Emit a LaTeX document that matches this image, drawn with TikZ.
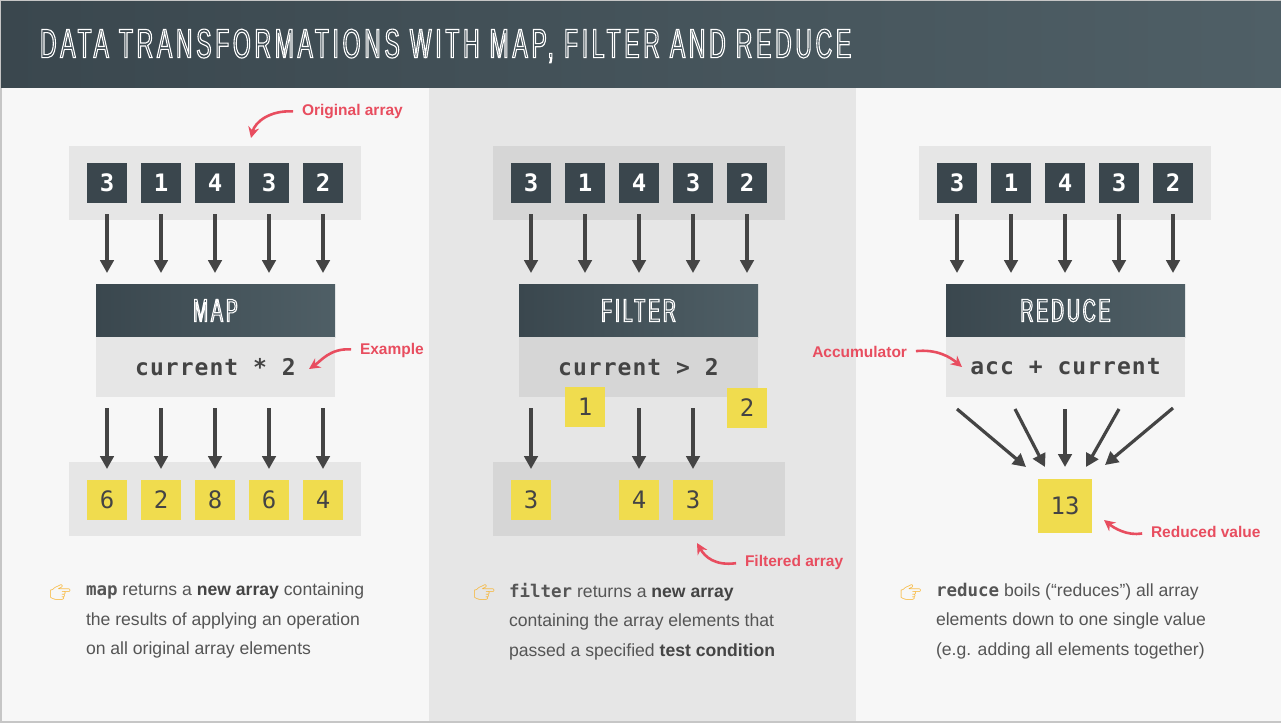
\documentclass[tikz,border=0pt]{standalone}
\usepackage{fontspec}
\usetikzlibrary{arrows.meta}
\setmainfont{Liberation Sans}
\newfontfamily\codefont{DejaVu Sans Mono}
\newfontfamily\titlefont[FakeStretch=0.56,LetterSpace=9]{Liberation Sans}
\newfontfamily\emojifont{Noto Emoji}
\definecolor{slateL}{HTML}{3A474E}
\definecolor{slateR}{HTML}{4F5F66}
\definecolor{cell}{HTML}{3A464D}
\definecolor{pagebg}{HTML}{F7F7F7}
\definecolor{lightbg}{HTML}{E6E6E6}
\definecolor{darkbg}{HTML}{D6D6D6}
\definecolor{yel}{HTML}{F0DC4E}
\definecolor{ink}{HTML}{444444}
\definecolor{txt}{HTML}{555555}
\definecolor{rose}{HTML}{E84D5F}
\newcommand{\outlined}[1]{\special{pdf:code 1 Tr 1.1 w}#1\special{pdf:code 0 Tr}}
\newcommand{\cod}[1]{{\codefont\bfseries\fontsize{17.5}{20}\selectfont #1}}
\newcommand{\heavy}[1]{{\bfseries\color{ink}#1}}
\tikzset{
  every node/.style={outer sep=0pt,inner sep=0pt},
  band/.style={minimum width=292pt,minimum height=74pt},
  cellbox/.style={minimum size=40pt,fill=cell,text=white,font=\codefont\bfseries\fontsize{24}{26}\selectfont},
  yelbox/.style={minimum size=40pt,fill=yel,text=ink,font=\codefont\fontsize{24}{26}\selectfont},
  ophead/.style={minimum width=239pt,minimum height=53pt,left color=slateL,right color=slateR,text=white,font=\titlefont\fontsize{32}{34}\selectfont},
  opbody/.style={minimum width=239pt,minimum height=60pt,text=ink,font=\codefont\bfseries\fontsize{23}{25}\selectfont\addfontfeature{LetterSpace=4.5}},
  flow/.style={draw=ink,line width=3.2pt,-{Triangle[width=13.5pt,length=13pt]},shorten <=11pt,shorten >=11pt},
  fan/.style={flow,shorten <=0pt,shorten >=0pt},
  note/.style={text=rose,font=\bfseries\fontsize{15.5}{18}\selectfont},
  pointer/.style={draw=rose,line width=2.6pt,-{Stealth[width=11pt,length=11pt]},shorten <=9pt},
  hand/.style={text=yel!55!orange,font=\emojifont\fontsize{17}{20}\selectfont},
  para/.style={anchor=north west,align=left,text=txt,font=\fontsize{17.6}{29.5}\selectfont}
}
\begin{document}
\begin{tikzpicture}[x=1pt,y=-1pt]
  \useasboundingbox (0,0) rectangle (1281,723);
  % page and header
  \fill[gray!45] (0,0) rectangle (1281,723);
  \fill[pagebg] (2,88) rectangle (1281,721);
  \fill[lightbg] (429,88) rectangle (856,721);
  \shade[left color=slateL,right color=slateR] (1,1) rectangle (1281,87);
  \node[anchor=west,text=white,font=\titlefont\fontsize{41}{43}\selectfont] (title) at (40,46)
    {\outlined{DATA TRANSFORMATIONS WITH MAP, FILTER AND REDUCE}};

  % map
  \node[band,fill=lightbg] (mapin) at (215,183) {};
  \draw
    (107,183) node[cellbox] (a1){3}
    (161,183) node[cellbox] (a2){1}
    (215,183) node[cellbox] (a3){4}
    (269,183) node[cellbox] (a4){3}
    (323,183) node[cellbox] (a5){2};
  \node[ophead] (maphead) at (215.5,310.5) {\outlined{MAP}};
  \node[opbody,fill=lightbg] (mapbody) at (215.5,367) {current * 2};
  \node[band,fill=lightbg] (mapout) at (215,499) {};
  \draw
    (107,500) node[yelbox] (b1){6}
    (161,500) node[yelbox] (b2){2}
    (215,500) node[yelbox] (b3){8}
    (269,500) node[yelbox] (b4){6}
    (323,500) node[yelbox] (b5){4};
  \begin{scope}[flow]
    \draw (a1) to (a1 |- maphead.north);
    \draw (a2) to (a2 |- maphead.north);
    \draw (a3) to (a3 |- maphead.north);
    \draw (a4) to (a4 |- maphead.north);
    \draw (a5) to (a5 |- maphead.north);
    \draw (b1 |- mapbody.south) to (b1);
    \draw (b2 |- mapbody.south) to (b2);
    \draw (b3 |- mapbody.south) to (b3);
    \draw (b4 |- mapbody.south) to (b4);
    \draw (b5 |- mapbody.south) to (b5);
  \end{scope}

  % filter
  \node[band,fill=darkbg] (filterin) at (639,183) {};
  \draw
    (531,183) node[cellbox] (c1){3}
    (585,183) node[cellbox] (c2){1}
    (639,183) node[cellbox] (c3){4}
    (693,183) node[cellbox] (c4){3}
    (747,183) node[cellbox] (c5){2};
  \node[ophead] (filterhead) at (638.5,310.5) {\outlined{FILTER}};
  \node[opbody,fill=darkbg] (filterbody) at (638.5,367) {current > 2};
  \node[band,fill=darkbg] (filterout) at (639,499) {};
  \draw
    (585,407) node[yelbox] (dropa){1}
    (747,408) node[yelbox] (dropb){2}
    (531,500) node[yelbox] (d1){3}
    (639,500) node[yelbox] (d3){4}
    (693,500) node[yelbox] (d4){3};
  \begin{scope}[flow]
    \draw (c1) to (c1 |- filterhead.north);
    \draw (c2) to (c2 |- filterhead.north);
    \draw (c3) to (c3 |- filterhead.north);
    \draw (c4) to (c4 |- filterhead.north);
    \draw (c5) to (c5 |- filterhead.north);
    \draw (d1 |- filterbody.south) to (d1);
    \draw (d3 |- filterbody.south) to (d3);
    \draw (d4 |- filterbody.south) to (d4);
  \end{scope}

  % reduce
  \node[band,fill=lightbg] (reducein) at (1065,183) {};
  \draw
    (957,183) node[cellbox] (e1){3}
    (1011,183) node[cellbox] (e2){1}
    (1065,183) node[cellbox] (e3){4}
    (1119,183) node[cellbox] (e4){3}
    (1173,183) node[cellbox] (e5){2};
  \node[ophead] (reducehead) at (1065.5,310.5) {\outlined{REDUCE}};
  \node[opbody,fill=lightbg] (reducebody) at (1065.5,367) {acc + current};
  \node[yelbox,minimum size=54pt] (total) at (1065,506) {13};
  \coordinate (g1) at (957,409);
  \coordinate (g2) at (1015,409);
  \coordinate (g3) at (1065,409);
  \coordinate (g4) at (1119,409);
  \coordinate (g5) at (1173,408);
  \coordinate (h1) at (1026,467);
  \coordinate (h2) at (1045,467);
  \coordinate (h3) at (1065,467);
  \coordinate (h4) at (1086,467);
  \coordinate (h5) at (1105,465);
  \begin{scope}[flow]
    \draw (e1) to (e1 |- reducehead.north);
    \draw (e2) to (e2 |- reducehead.north);
    \draw (e3) to (e3 |- reducehead.north);
    \draw (e4) to (e4 |- reducehead.north);
    \draw (e5) to (e5 |- reducehead.north);
  \end{scope}
  \begin{scope}[fan]
    \draw (g1) to (h1);
    \draw (g2) to (h2);
    \draw (g3) to (h3);
    \draw (g4) to (h4);
    \draw (g5) to (h5);
  \end{scope}

  % notes
  \node[note,anchor=west] (origlabel) at (302,112) {Original array};
  \node[note,anchor=west] (examplelabel) at (360,350) {Example};
  \node[note,anchor=east] (acclabel) at (907,352) {Accumulator};
  \node[note,anchor=west] (filteredlabel) at (745,562) {Filtered array};
  \node[note,anchor=west] (reducedlabel) at (1151,532) {Reduced value};
  \coordinate (origtip) at (251,138);
  \coordinate (exampletip) at (309,369);
  \coordinate (acctip) at (962,367);
  \coordinate (filteredtip) at (697,543);
  \coordinate (reducedtip) at (1104,520);
  \draw[pointer] (origlabel.west) .. controls +(-32,-2) and +(4,-16) .. (origtip);
  \draw[pointer] (examplelabel.west) .. controls +(-30,-2) and +(12,-8) .. (exampletip);
  \draw[pointer] (acclabel.east) .. controls +(30,-3) and +(-12,-10) .. (acctip);
  \draw[pointer] (filteredlabel.west) .. controls +(-30,4) and +(8,14) .. (filteredtip);
  \draw[pointer] (reducedlabel.west) .. controls +(-24,4) and +(10,8) .. (reducedtip);

  % captions
  \node[hand] (handa) at (60.5,593) {👉};
  \node[hand] (handb) at (484.5,593) {👉};
  \node[hand] (handc) at (911,593) {👉};
  \node[para] (capa) at (86,583) {\cod{map} returns a \heavy{new array} containing\\the results of applying an operation\\on all original array elements};
  \node[para] (capb) at (509,583) {\cod{filter} returns a \heavy{new array}\\containing the array elements that\\passed a specified \heavy{test condition}};
  \node[para] (capc) at (936,583) {\cod{reduce} boils (“reduces”) all array\\elements down to one single value\\(e.g. adding all elements together)};
\end{tikzpicture}
\end{document}
